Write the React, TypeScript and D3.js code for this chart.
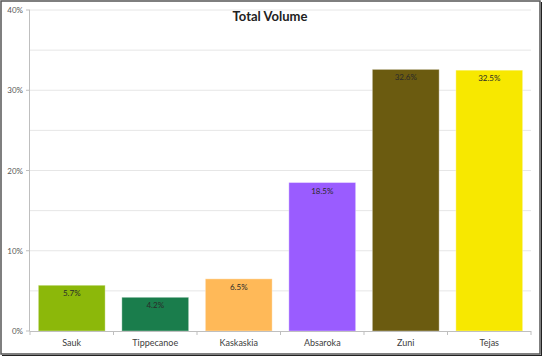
import React from "react";
import * as d3 from "d3";

const categories = ["Sauk", "Tippecanoe", "Kaskaskia", "Absaroka", "Zuni", "Tejas"];
const values = [5.7, 4.2, 6.5, 18.5, 32.6, 32.5];
const colors = ["#8cb80a", "#1a7d4c", "#ffb958", "#9a5cff", "#6b5b10", "#f7e800"];
const yTicks = [0, 10, 20, 30, 40];
const gridTicks = [5, 10, 15, 20, 25, 30, 35, 40];

const W = 543, H = 358;
const left = 30, right = 531, top = 10, bottom = 331;
const font = "Lato, 'Open Sans', sans-serif";

export default function App() {
  const x = d3.scaleBand<string>().domain(categories).range([left, right]).paddingInner(0.2).paddingOuter(0.1);
  const y = d3.scaleLinear().domain([0, 40]).range([bottom, top]);
  const step = x.step();
  const boundaries = d3.range(categories.length + 1).map((i) => left + step * i);
  return (
    <svg width={W} height={H} style={{ position: "absolute", left: 0, top: 0, background: "#fff" }} fontFamily={font}>
      <rect x={1} y={1} width={539} height={353} fill="#fff" stroke="#555" strokeWidth={1.5} />
      <line x1={541.5} y1={2} x2={541.5} y2={356} stroke="#222" strokeWidth={1} />
      <line x1={2} y1={355.5} x2={541.5} y2={355.5} stroke="#222" strokeWidth={1} />
      {gridTicks.map((t) => (
        <line key={t} x1={left} x2={right} y1={y(t)} y2={y(t)} stroke="#e6e6e6" strokeWidth={1} />
      ))}
      <line x1={left - 0.5} x2={left - 0.5} y1={top} y2={bottom} stroke="#bfbfbf" strokeWidth={1} />
      {yTicks.map((t) => (
        <g key={t}>
          <line x1={left - 4} x2={left} y1={y(t)} y2={y(t)} stroke="#bfbfbf" />
          <text x={left - 7} y={y(t) + 3} textAnchor="end" fontSize={8} fill="#595959">{t}%</text>
        </g>
      ))}
      {categories.map((c, i) => {
        const bx = x(c)!;
        const bw = x.bandwidth();
        const cx = bx + bw / 2;
        return (
          <g key={c}>
            <rect x={bx} y={y(values[i])} width={bw} height={bottom - y(values[i])} fill={colors[i]} stroke="#ffffff" strokeOpacity={0.35} strokeWidth={1} />
            <text x={cx} y={y(values[i]) + 11} textAnchor="middle" fontSize={8} fill="#2a2a2a">{values[i].toFixed(1)}%</text>
            <text x={cx} y={346} textAnchor="middle" fontSize={9} fill="#404040">{c}</text>
          </g>
        );
      })}
      <line x1={left} x2={right} y1={bottom + 0.5} y2={bottom + 0.5} stroke="#bfbfbf" />
      {boundaries.map((b, i) => (
        <line key={i} x1={b} x2={b} y1={bottom} y2={bottom + 4} stroke="#bfbfbf" />
      ))}
      <text x={270} y={21} textAnchor="middle" fontSize={13} fontWeight="bold" fill="#222">Total Volume</text>
    </svg>
  );
}
